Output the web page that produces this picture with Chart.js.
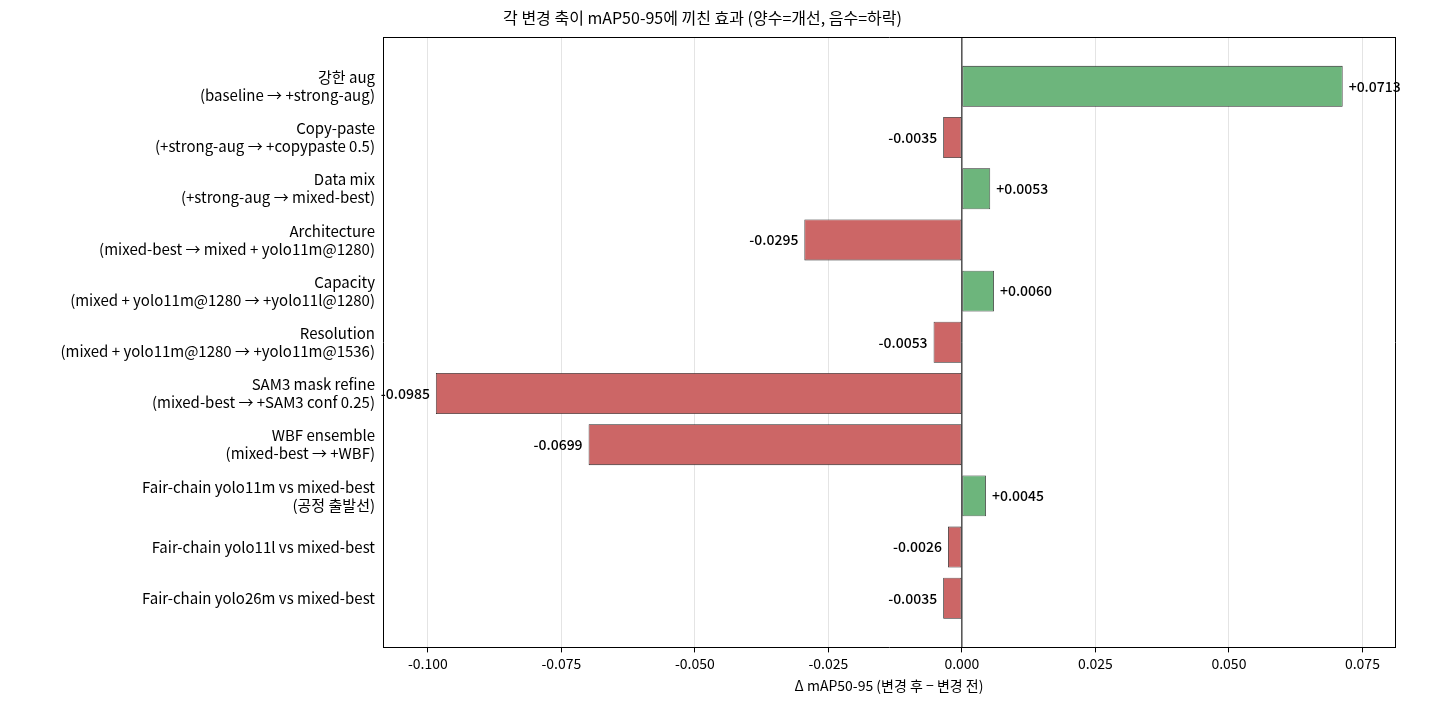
<!DOCTYPE html>
<html>
<head>
<meta charset="utf-8">
<script src="https://cdn.jsdelivr.net/npm/chart.js@4"></script>
<style>
  html, body { margin: 0; padding: 0; background: #fff; }
  #wrap { width: 1431px; height: 708px; }
</style>
</head>
<body>
<div id="wrap"><canvas id="c"></canvas></div>
<script>
const labels = [
  ['강한 aug', '(baseline → +strong-aug)'],
  ['Copy-paste', '(+strong-aug → +copypaste 0.5)'],
  ['Data mix', '(+strong-aug → mixed-best)'],
  ['Architecture', '(mixed-best → mixed + yolo11m@1280)'],
  ['Capacity', '(mixed + yolo11m@1280 → +yolo11l@1280)'],
  ['Resolution', '(mixed + yolo11m@1280 → +yolo11m@1536)'],
  ['SAM3 mask refine', '(mixed-best → +SAM3 conf 0.25)'],
  ['WBF ensemble', '(mixed-best → +WBF)'],
  ['Fair-chain yolo11m vs mixed-best', '(공정 출발선)'],
  ['Fair-chain yolo11l vs mixed-best'],
  ['Fair-chain yolo26m vs mixed-best']
]
const deltas = [0.0713, -0.0035, 0.0053, -0.0295, 0.0060, -0.0053, -0.0985, -0.0699, 0.0045, -0.0026, -0.0035]
const xTicks = [-0.100, -0.075, -0.050, -0.025, 0.000, 0.025, 0.050, 0.075]

const FONT = "'Noto Sans CJK KR', 'Noto Sans', sans-serif"

const valueLabels = {
  id: 'valueLabels',
  afterDatasetsDraw(chart) {
    const ctx = chart.ctx
    const meta = chart.getDatasetMeta(0)
    ctx.save()
    ctx.font = '500 14px ' + FONT
    ctx.fillStyle = '#000'
    ctx.textBaseline = 'middle'
    meta.data.forEach((bar, i) => {
      const v = deltas[i]
      const txt = (v >= 0 ? '+' : '') + v.toFixed(4)
      if (v >= 0) {
        ctx.textAlign = 'left'
        ctx.fillText(txt, bar.x + 6, bar.y)
      } else {
        ctx.textAlign = 'right'
        ctx.fillText(txt, bar.x - 6, bar.y)
      }
    })
    ctx.restore()
  }
}

new Chart(document.getElementById('c'), {
  type: 'bar',
  data: {
    datasets: [{
      data: deltas.map((v, i) => ({ x: v, y: i })),
      backgroundColor: deltas.map(v => v >= 0 ? '#6db57c' : '#cc6666'),
      borderColor: '#222',
      borderWidth: 0.8,
      borderSkipped: false,
      barPercentage: 0.8,
      categoryPercentage: 1
    }]
  },
  options: {
    indexAxis: 'y',
    responsive: true,
    maintainAspectRatio: false,
    animation: false,
    layout: { padding: { left: 10, right: 36, top: 0, bottom: 10 } },
    plugins: {
      legend: { display: false },
      tooltip: { enabled: false },
      title: {
        display: true,
        text: '각 변경 축이 mAP50-95에 끼친 효과 (양수=개선, 음수=하락)',
        color: '#000',
        font: { family: FONT, size: 16, weight: 'normal' },
        padding: { top: 8, bottom: 10 }
      }
    },
    scales: {
      x: {
        type: 'linear',
        min: -0.1084,
        max: 0.0811,
        offset: false,
        afterBuildTicks: (axis) => { axis.ticks = xTicks.map(v => ({ value: v })) },
        ticks: {
          color: '#000',
          font: { family: FONT, size: 14 },
          callback: (v) => v.toFixed(3)
        },
        grid: { color: '#e4e4e4', drawTicks: true, tickColor: '#000', tickLength: 5 },
        border: { color: '#000' },
        title: {
          display: true,
          text: 'Δ mAP50-95 (변경 후 − 변경 전)',
          color: '#000',
          font: { family: FONT, size: 14 },
          padding: { top: 2 }
        }
      },
      y: {
        type: 'linear',
        reverse: true,
        offset: false,
        min: -0.96,
        max: 10.96,
        afterBuildTicks: (axis) => { axis.ticks = labels.map((l, i) => ({ value: i })) },
        afterFit: (axis) => { axis.width = 373 },
        ticks: {
          color: '#000',
          font: { family: FONT, size: 15, lineHeight: 1.2 },
          callback: (v) => labels[v]
        },
        grid: { display: false, drawTicks: true, tickLength: 5, tickColor: '#000' },
        border: { color: '#000' }
      },
      x2: {
        position: 'top', type: 'linear', display: true, offset: false,
        ticks: { display: false }, grid: { display: false, drawTicks: false },
        border: { color: '#000' }
      },
      y2: {
        position: 'right', type: 'linear', display: true, offset: false,
        ticks: { display: false }, grid: { display: false, drawTicks: false },
        border: { color: '#000' }
      }
    }
  },
  plugins: [valueLabels, {
    id: 'zeroLine',
    afterDatasetsDraw(chart) {
      const x = chart.scales.x.getPixelForValue(0)
      const a = chart.chartArea
      const ctx = chart.ctx
      ctx.save()
      ctx.strokeStyle = '#000'
      ctx.lineWidth = 1
      ctx.beginPath()
      ctx.moveTo(x, a.top)
      ctx.lineTo(x, a.bottom)
      ctx.stroke()
      ctx.restore()
    }
  }]
})
</script>
</body>
</html>
